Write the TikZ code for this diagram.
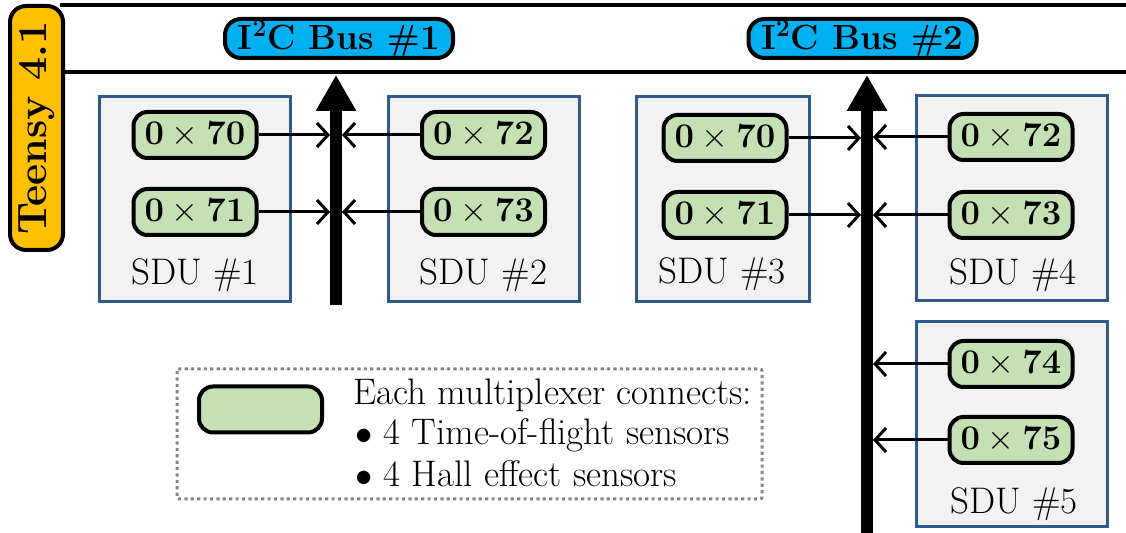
\documentclass[tikz,border=0pt]{standalone}
\usepackage{amssymb}
\usepackage{tikz}
\usetikzlibrary{arrows.meta}

\definecolor{teensyorange}{HTML}{FFC000}
\definecolor{buscyan}{HTML}{00B0F0}
\definecolor{muxgreen}{HTML}{C5E0B4}
\definecolor{sdugray}{HTML}{F2F2F2}
\definecolor{sdublue}{HTML}{2F5B88}
\definecolor{keygray}{HTML}{858585}

\newcommand{\hexaddr}[1]{$\mathbf{0}\times\mathbf{#1}$}

\tikzset{
  mux/.style={draw, line width=2pt, fill=muxgreen, rounded corners=7pt,
    minimum width=61.5pt, minimum height=23pt, inner sep=0pt,
    font=\fontsize{18.5}{20}\selectfont},
  sdubox/.style={draw=sdublue, line width=1.5pt, fill=sdugray,
    minimum width=95.5pt, minimum height=102.5pt, inner sep=0pt},
  sdulabel/.style={anchor=base, inner sep=0pt, font=\fontsize{18.5}{20}\selectfont},
  keyline/.style={anchor=base west, inner sep=0pt, font=\fontsize{18.5}{20}\selectfont},
  busname/.style={draw, line width=2pt, fill=buscyan, rounded corners=8pt,
    minimum width=114pt, minimum height=19.5pt, inner sep=0pt,
    font=\fontsize{17.5}{19}\selectfont\bfseries},
  rail/.style={line width=2pt},
  bus/.style={line width=6pt, -{Triangle[length=18pt, width=19pt]}},
  link/.style={line width=1.5pt, shorten >=3pt,
    -{Straight Barb[length=5.5pt, width=12pt, line width=1.5pt]}},
}

\begin{document}
\begin{tikzpicture}[x=0.5pt, y=-0.5pt]
    \useasboundingbox (0,0) rectangle (1126,533);

    % controller and the two rails
    \draw[rail] (60,5) -- (1130,5);
    \draw[rail] (60,72.5) -- (1130,72.5);
    \node[draw, line width=2pt, fill=teensyorange, rounded corners=8pt, rotate=90,
        minimum width=122pt, minimum height=26.5pt, inner sep=0pt,
        font=\fontsize{20.5}{22}\selectfont\bfseries] (teensy) at (36.5,128) {Teensy 4.1};

    \node[busname] (bus1name) at (339,38.5) {I\textsuperscript{2}C Bus \#1};
    \node[busname] (bus2name) at (862.5,38.5) {I\textsuperscript{2}C Bus \#2};

    % sensor data units
    \node[sdubox] (sdu1) at (195,199) {};
    \node[sdubox] (sdu2) at (483.5,199) {};
    \node[sdubox, minimum width=86.5pt] (sdu3) at (722.5,199.5) {};
    \node[sdubox] (sdu4) at (1011.5,198) {};
    \node[sdubox] (sdu5) at (1012,424.5) {};

    \node[sdulabel] (sdu1t) at (195,285) {SDU \#1};
    \node[sdulabel] (sdu2t) at (483.5,285) {SDU \#2};
    \node[sdulabel] (sdu3t) at (722,284) {SDU \#3};
    \node[sdulabel] (sdu4t) at (1013,285) {SDU \#4};
    \node[sdulabel] (sdu5t) at (1014,514) {SDU \#5};

    % multiplexers
    \node[mux] (s1a) at (195,135) {\hexaddr{70}};
    \node[mux] (s1b) at (195,212) {\hexaddr{71}};
    \node[mux] (s2a) at (483.5,135) {\hexaddr{72}};
    \node[mux] (s2b) at (483.5,212) {\hexaddr{73}};
    \node[mux] (s3a) at (725,138) {\hexaddr{70}};
    \node[mux] (s3b) at (725,215) {\hexaddr{71}};
    \node[mux] (s4a) at (1011,137) {\hexaddr{72}};
    \node[mux] (s4b) at (1011,215) {\hexaddr{73}};
    \node[mux] (s5a) at (1011,364) {\hexaddr{74}};
    \node[mux] (s5b) at (1011,440) {\hexaddr{75}};

    % bus lines
    \coordinate (bus1foot) at (336,305);
    \coordinate (bus1head) at (336,75);
    \coordinate (bus2foot) at (867,540);
    \coordinate (bus2head) at (867,75);
    \draw[bus] (bus1foot) -- (bus1head);
    \draw[bus] (bus2foot) -- (bus2head);

    \foreach \m in {s1a,s1b}
        \draw[link] (\m.east) -- (\m.east -| bus1head);
    \foreach \m in {s2a,s2b}
        \draw[link] (\m.west) -- (\m.west -| bus1head);
    \foreach \m in {s3a,s3b}
        \draw[link] (\m.east) -- (\m.east -| bus2head);
    \foreach \m in {s4a,s4b,s5a,s5b}
        \draw[link] (\m.west) -- (\m.west -| bus2head);

    % legend
    \draw[keygray, line width=1.5pt, dash pattern=on 1.6pt off 1.6pt, rounded corners=1pt]
        (177,369) rectangle (762,499);
    \node[mux] (key) at (260.5,409.5) {};
    \node[keyline] (key1) at (353,405) {Each multiplexer connects:};
    \node[keyline] (key2) at (355,445) {$\bullet$~4 Time-of-flight sensors};
    \node[keyline] (key3) at (355,487) {$\bullet$~4 Hall effect sensors};
\end{tikzpicture}
\end{document}
